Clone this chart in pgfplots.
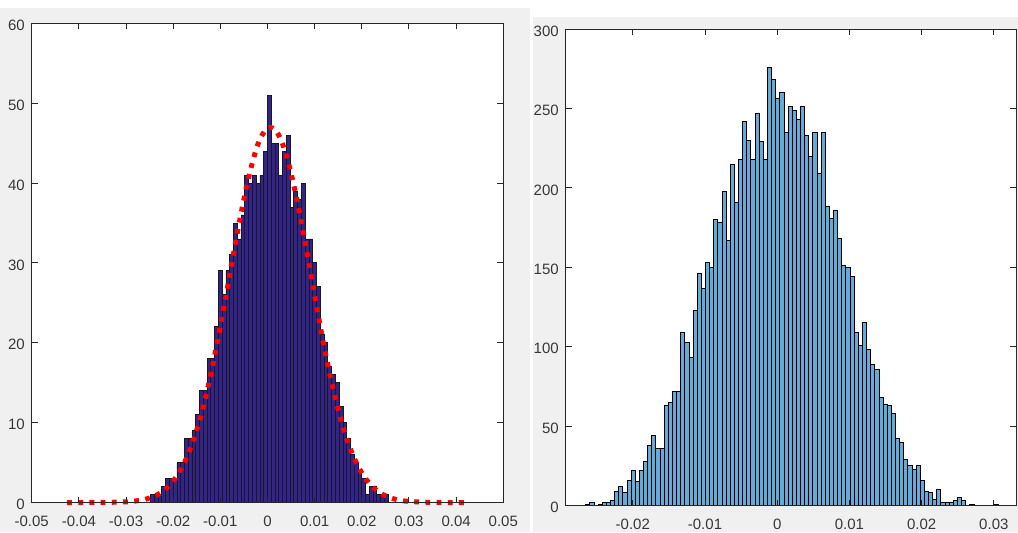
\documentclass[border=0pt]{standalone}
\usepackage{fontspec}
\setmainfont{Liberation Sans}
\usepackage{pgfplots}
\pgfplotsset{compat=1.18}
\definecolor{figgray}{RGB}{240,240,240}
\definecolor{leftbar}{RGB}{50,36,140}
\definecolor{rightbar}{RGB}{102,170,215}
\definecolor{axgray}{RGB}{38,38,38}
\definecolor{lblgray}{RGB}{55,55,55}

\pgfplotsset{
  matlab/.style={
    scale only axis, anchor=south west, axis on top,
    axis background/.style={fill=white},
    axis line style={axgray, line width=0.5pt},
    tick style={axgray, line width=0.5pt},
    major tick length=3pt, tick align=inside,
    ticklabel style={font=\fontsize{7.5}{9}\selectfont, text=lblgray},
    xticklabel style={anchor=north, inner sep=0pt, yshift=-6.5pt},
    yticklabel style={anchor=east, inner sep=0pt, xshift=-3.3pt, yshift=-1pt},
  }
}

\begin{document}
\begin{tikzpicture}
\useasboundingbox (0,0) rectangle (509pt,266pt);
\fill[white] (0,0) rectangle (509pt,266pt);
\fill[figgray] (0,0) rectangle (265pt,262pt);
\fill[figgray] (266.5pt,0) rectangle (509pt,257.5pt);

% left panel: histogram with fitted normal curve
\begin{axis}[matlab,
  at={(15.85pt,14.75pt)}, width=235.8pt, height=239.6pt,
  xmin=-0.05, xmax=0.05, ymin=0, ymax=60, clip=false,
  xtick={-0.05,-0.04,-0.03,-0.02,-0.01,0,0.01,0.02,0.03,0.04,0.05},
  xticklabels={-0.05,-0.04,-0.03,-0.02,-0.01,0,0.01,0.02,0.03,0.04,0.05},
  ytick={0,10,20,30,40,50,60},
  yticklabels={0,10,20,30,40,50,60},
]
\addplot[ybar interval, fill=leftbar, draw=black!90, line width=0.45pt] coordinates {
(-0.0248,1) (-0.0240,1) (-0.0232,1) (-0.0224,2) (-0.0216,3) (-0.0208,3)
(-0.0200,3) (-0.0192,5) (-0.0184,5) (-0.0176,8) (-0.0168,8) (-0.0160,9)
(-0.0152,11) (-0.0144,14) (-0.0136,14) (-0.0128,18) (-0.0120,18) (-0.0112,22)
(-0.0104,29) (-0.0096,26) (-0.0088,29) (-0.0080,31) (-0.0072,35) (-0.0064,33)
(-0.0056,36) (-0.0048,41) (-0.0040,40) (-0.0032,41) (-0.0024,40) (-0.0016,41)
(-0.0008,44) (0.0000,51) (0.0008,45) (0.0016,45) (0.0024,41) (0.0032,44)
(0.0040,46) (0.0048,37) (0.0056,39) (0.0064,38) (0.0072,40) (0.0080,33)
(0.0088,33) (0.0096,30) (0.0104,27) (0.0112,21) (0.0120,20) (0.0128,17)
(0.0136,16) (0.0144,15) (0.0152,12) (0.0160,10) (0.0168,8) (0.0176,6)
(0.0184,5) (0.0192,4) (0.0200,3) (0.0208,1) (0.0216,2) (0.0224,2)
(0.0232,1) (0.0240,1) (0.0248,1) (0.0256,0)
};
\addplot[red, line width=2.5pt, dash pattern=on 2.4pt off 3.2pt, smooth] coordinates {
(-0.0425,0) (-0.035,0.01) (-0.030,0.08) (-0.028,0.19) (-0.026,0.39) (-0.024,0.79)
(-0.022,1.48) (-0.020,2.67) (-0.018,4.53) (-0.016,7.29) (-0.014,11.1) (-0.012,16.1)
(-0.010,22.0) (-0.008,28.5) (-0.006,35.0) (-0.004,40.7) (-0.002,44.9) (0.000,46.9)
(0.002,46.4) (0.004,43.5) (0.006,38.6) (0.008,32.5) (0.010,25.9) (0.012,19.5)
(0.014,14.0) (0.016,9.45) (0.018,6.07) (0.020,3.69) (0.022,2.13) (0.024,1.16)
(0.026,0.60) (0.028,0.29) (0.030,0.14) (0.035,0.01) (0.0425,0)
};
\end{axis}

% right panel: histogram
\begin{axis}[matlab,
  at={(282.85pt,13.15pt)}, width=225.15pt, height=238.35pt,
  xmin=-0.02929, xmax=0.03307, ymin=0, ymax=300,
  xtick={-0.02,-0.01,0,0.01,0.02,0.03},
  xticklabels={-0.02,-0.01,0,0.01,0.02,0.03},
  ytick={0,50,100,150,200,250,300},
  yticklabels={0,50,100,150,200,250,300},
]
\addplot[ybar interval, fill=rightbar, draw=black, line width=0.5pt] coordinates {
(-0.026512,1) (-0.02594,2) (-0.025368,0) (-0.024796,1) (-0.024224,2) (-0.023652,2)
(-0.02308,3) (-0.022508,9) (-0.021936,12) (-0.021364,8) (-0.020792,16) (-0.02022,22)
(-0.019648,15) (-0.019076,22) (-0.018504,28) (-0.017932,38) (-0.01736,44) (-0.016788,36)
(-0.016216,36) (-0.015644,63) (-0.015072,65) (-0.0145,72) (-0.013928,72) (-0.013356,109)
(-0.012784,103) (-0.012212,93) (-0.01164,123) (-0.011068,146) (-0.010496,137) (-0.009924,153)
(-0.009352,150) (-0.00878,180) (-0.008208,178) (-0.007636,198) (-0.007064,167) (-0.006492,215)
(-0.00592,191) (-0.005348,218) (-0.004776,242) (-0.004204,230) (-0.003632,218) (-0.00306,247)
(-0.002488,229) (-0.001916,218) (-0.001344,276) (-0.000772,268) (-0.0002,256) (0.000372,260)
(0.000944,235) (0.001516,251) (0.002088,249) (0.00266,243) (0.003232,251) (0.003804,233)
(0.004376,220) (0.004948,235) (0.00552,209) (0.006092,235) (0.006664,188) (0.007236,181)
(0.007808,186) (0.00838,168) (0.008952,151) (0.009524,150) (0.010096,144) (0.010668,109)
(0.01124,101) (0.011812,115) (0.012384,98) (0.012956,89) (0.013528,86) (0.0141,68)
(0.014672,64) (0.015244,63) (0.015816,58) (0.016388,42) (0.01696,40) (0.017532,29)
(0.018104,25) (0.018676,23) (0.019248,25) (0.01982,16) (0.020392,9) (0.020964,8)
(0.021536,4) (0.022108,10) (0.02268,2) (0.023252,2) (0.023824,2) (0.024396,3)
(0.024968,5) (0.02554,3) (0.026112,0) (0.026684,1) (0.027256,0) (0.027828,0)
(0.0284,0) (0.028972,0) (0.029544,0) (0.030116,1) (0.030688,0)
};
\end{axis}
\end{tikzpicture}
\end{document}
